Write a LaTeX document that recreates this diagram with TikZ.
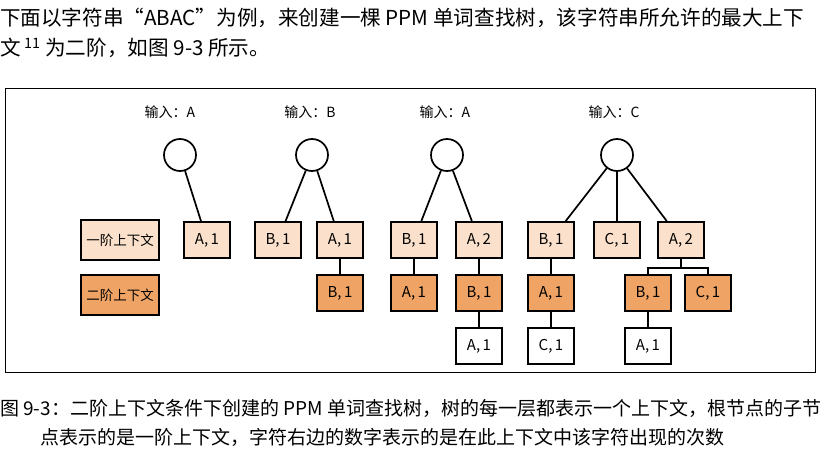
\documentclass[tikz,border=0pt]{standalone}
\usepackage{fontspec}
\setmainfont{Noto Sans CJK SC}
\usetikzlibrary{positioning}
\definecolor{light}{HTML}{FBE1CB}
\definecolor{deep}{HTML}{EFA466}
\tikzset{
    box/.style={draw,line width=1.7pt,minimum width=46pt,minimum height=36pt,inner sep=0pt,font=\fontsize{15}{15}\selectfont},
    one/.style={box,fill=light},
    two/.style={box,fill=deep},
    root/.style={draw,line width=1.7pt,circle,minimum size=32pt,inner sep=0pt},
    inp/.style={font=\fontsize{14}{14}\selectfont},
    link/.style={line width=1.7pt}
}
\begin{document}
\begin{tikzpicture}[x=1pt,y=-1pt]
    \useasboundingbox (0,0) rectangle (822,454);
    \node[anchor=west,inner sep=0pt,font=\fontsize{20.6}{20.6}\selectfont] (t1) at (0,18) {下面以字符串“ABAC”为例，来创建一棵 PPM 单词查找树，该字符串所允许的最大上下};
    \node[anchor=west,inner sep=0pt,font=\fontsize{20.6}{20.6}\selectfont] (t2) at (0,48) {文\,\textsuperscript{11} 为二阶，如图 9-3 所示。};
    \draw[line width=0.6pt] (5,88) rectangle (815,372);
    % inputs
    \node[inp] (i1) at (170,112) {输入：A};
    \node[inp] (i2) at (310,112) {输入：B};
    \node[inp] (i3) at (445,112) {输入：A};
    \node[inp] (i4) at (614,112) {输入：C};
    \node[root] (r1) at (180,155) {};
    \node[root] (r2) at (312,155) {};
    \node[root] (r3) at (447,155) {};
    \node[root] (r4) at (617,155) {};
    % legend
    \node[one,minimum width=78pt,minimum height=40pt,font=\fontsize{13.5}{13.5}\selectfont] (l1) at (120,240) {一阶上下文};
    \node[two,minimum width=78pt,minimum height=40pt,font=\fontsize{13.5}{13.5}\selectfont] (l2) at (120,295) {二阶上下文};
    % tree 1
    \node[one] (a1) at (207,240) {A,\,1};
    % tree 2
    \node[one] (b1) at (278,240) {B,\,1};
    \node[one] (b2) at (340,240) {A,\,1};
    \node[two] (b3) at (340,293) {B,\,1};
    % tree 3
    \node[one] (c1) at (414,240) {B,\,1};
    \node[one] (c2) at (479,240) {A,\,2};
    \node[two] (c3) at (414,293) {A,\,1};
    \node[two] (c4) at (479,293) {B,\,1};
    \node[box] (c5) at (479,346) {A,\,1};
    % tree 4
    \node[one] (d1) at (551,240) {B,\,1};
    \node[one] (d2) at (617,240) {C,\,1};
    \node[one] (d3) at (681,240) {A,\,2};
    \node[two] (d4) at (551,293) {A,\,1};
    \node[two] (d5) at (648,293) {B,\,1};
    \node[two] (d6) at (708,293) {C,\,1};
    \node[box] (d7) at (551,346) {C,\,1};
    \node[box] (d8) at (648,346) {A,\,1};
    \draw[link] (r1) -- (a1);
    \draw[link] (r2) -- (b1);
    \draw[link] (r2) -- (b2);
    \draw[link] (b2) -- (b3);
    \draw[link] (r3) -- (c1);
    \draw[link] (r3) -- (c2);
    \draw[link] (c1) -- (c3);
    \draw[link] (c2) -- (c4);
    \draw[link] (c4) -- (c5);
    \draw[link] (r4) -- (d1);
    \draw[link] (r4) -- (d2);
    \draw[link] (r4) -- (d3);
    \draw[link] (d1) -- (d4);
    \draw[link] (d4) -- (d7);
    \draw[link] (d5) -- (d8);
    \draw[link] (d3.south) -- ++(0,9) coordinate (k);
    \draw[link] (d5.north) |- (k) -| (d6.north);
    % caption
    \node[anchor=west,inner sep=0pt,font=\fontsize{19}{19}\selectfont] (cap1) at (0,408) {图 9-3：二阶上下文条件下创建的 PPM 单词查找树，树的每一层都表示一个上下文，根节点的子节};
    \node[anchor=west,inner sep=0pt,font=\fontsize{19}{19}\selectfont] (cap2) at (40,437) {点表示的是一阶上下文，字符右边的数字表示的是在此上下文中该字符出现的次数};
\end{tikzpicture}
\end{document}
